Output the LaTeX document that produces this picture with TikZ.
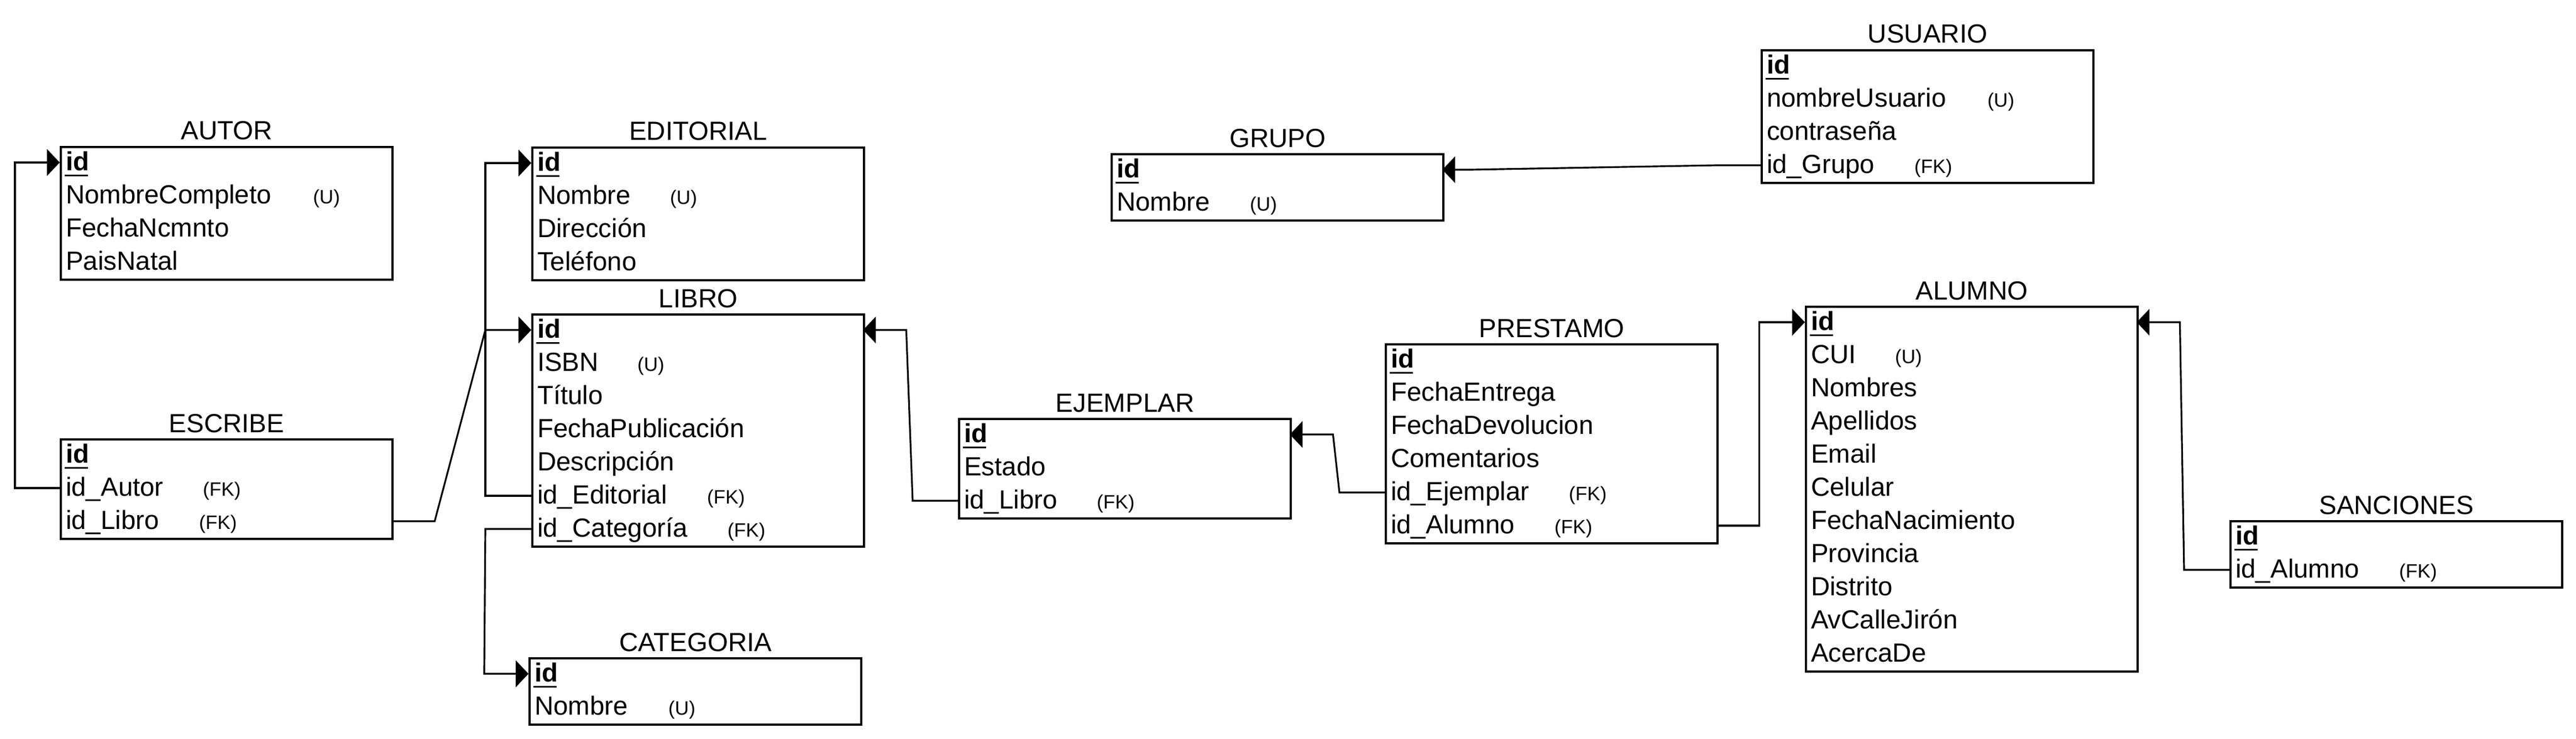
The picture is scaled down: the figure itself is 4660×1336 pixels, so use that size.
\documentclass[tikz,border=0pt]{standalone}
\usepackage{fontspec}
\setmainfont{Liberation Sans}
\usepackage{tikz}
\usetikzlibrary{arrows.meta,positioning}

\newcommand{\entfont}{\fontsize{13.5}{16}\selectfont}
\newcommand{\tagfont}{\fontsize{10}{12}\selectfont}
\newcommand{\pk}{\hspace*{-0.02cm}\rlap{\rule[-0.11cm]{0.42cm}{0.03cm}}\hspace*{0.02cm}\textbf{id}}
\newcommand{\tagged}[3]{\makebox[#2][l]{#1}{\tagfont #3}}

\tikzset{
    entity/.style={draw, line width=1.1pt, anchor=north west, minimum width=6cm, inner sep=0pt},
    attr/.style={anchor=west, outer sep=0pt, inner xsep=0.11cm, inner ysep=0pt, text width=5.78cm, align=left,
        text height=0.38cm, text depth=0.10cm, font=\entfont},
    title/.style={anchor=base, font=\entfont},
    fk/.style={line width=0.9pt, -{Triangle[length=0.23cm,width=0.48cm]}}
}

\begin{document}
\begin{tikzpicture}[x=0.01cm, y=-0.01cm]
    \useasboundingbox (0,0) rectangle (4660,1336);

    % AUTOR
    \node[entity, minimum height=2.4cm] (autor) at (108,264) {};
    \node[title] (autor-title) at ([yshift=0.11cm]autor.north) {AUTOR};
    \foreach \f [count=\i] in {\pk, \tagged{NombreCompleto}{4.47cm}{(U)}, FechaNcmnto, PaisNatal}
        \node[attr] (autor-\i) at (108, 234+60*\i) {\f};

    % EDITORIAL
    \node[entity, minimum height=2.4cm] (editorial) at (961,265) {};
    \node[title] (editorial-title) at ([yshift=0.11cm]editorial.north) {EDITORIAL};
    \foreach \f [count=\i] in {\pk, \tagged{Nombre}{2.40cm}{(U)}, Dirección, Teléfono}
        \node[attr] (editorial-\i) at (961, 235+60*\i) {\f};

    % ESCRIBE
    \node[entity, minimum height=1.8cm] (escribe) at (108,793) {};
    \node[title] (escribe-title) at ([yshift=0.11cm]escribe.north) {ESCRIBE};
    \foreach \f [count=\i] in {\pk, \tagged{id\_Autor}{2.48cm}{(FK)}, \tagged{id\_Libro}{2.41cm}{(FK)}}
        \node[attr] (escribe-\i) at (108, 763+60*\i) {\f};

    % LIBRO
    \node[entity, minimum height=4.2cm] (libro) at (961,567) {};
    \node[title] (libro-title) at ([yshift=0.11cm]libro.north) {LIBRO};
    \foreach \f [count=\i] in {\pk, \tagged{ISBN}{1.81cm}{(U)}, Título, FechaPublicación, Descripción,
        \tagged{id\_Editorial}{3.07cm}{(FK)}, \tagged{id\_Categoría}{3.44cm}{(FK)}}
        \node[attr] (libro-\i) at (961, 537+60*\i) {\f};

    % CATEGORIA
    \node[entity, minimum height=1.2cm] (categoria) at (956,1189) {};
    \node[title] (categoria-title) at ([yshift=0.11cm]categoria.north) {CATEGORIA};
    \foreach \f [count=\i] in {\pk, \tagged{Nombre}{2.42cm}{(U)}}
        \node[attr] (categoria-\i) at (956, 1159+60*\i) {\f};

    % GRUPO
    \node[entity, minimum height=1.2cm] (grupo) at (2009,277) {};
    \node[title] (grupo-title) at ([yshift=0.11cm]grupo.north) {GRUPO};
    \foreach \f [count=\i] in {\pk, \tagged{Nombre}{2.41cm}{(U)}}
        \node[attr] (grupo-\i) at (2009, 247+60*\i) {\f};

    % EJEMPLAR
    \node[entity, minimum height=1.8cm] (ejemplar) at (1733,756) {};
    \node[title] (ejemplar-title) at ([yshift=0.11cm]ejemplar.north) {EJEMPLAR};
    \foreach \f [count=\i] in {\pk, Estado, \tagged{id\_Libro}{2.40cm}{(FK)}}
        \node[attr] (ejemplar-\i) at (1733, 726+60*\i) {\f};

    % PRESTAMO
    \node[entity, minimum height=3.6cm] (prestamo) at (2505,621) {};
    \node[title] (prestamo-title) at ([yshift=0.11cm]prestamo.north) {PRESTAMO};
    \foreach \f [count=\i] in {\pk, FechaEntrega, FechaDevolucion, Comentarios,
        \tagged{id\_Ejemplar}{3.22cm}{(FK)}, \tagged{id\_Alumno}{2.96cm}{(FK)}}
        \node[attr] (prestamo-\i) at (2505, 591+60*\i) {\f};

    % USUARIO
    \node[entity, minimum height=2.4cm] (usuario) at (3185,89) {};
    \node[title] (usuario-title) at ([yshift=0.11cm]usuario.north) {USUARIO};
    \foreach \f [count=\i] in {\pk, \tagged{nombreUsuario}{3.99cm}{(U)}, contraseña, \tagged{id\_Grupo}{2.67cm}{(FK)}}
        \node[attr] (usuario-\i) at (3185, 59+60*\i) {\f};

    % ALUMNO
    \node[entity, minimum height=6.6cm] (alumno) at (3265,553) {};
    \node[title] (alumno-title) at ([yshift=0.11cm]alumno.north) {ALUMNO};
    \foreach \f [count=\i] in {\pk, \tagged{CUI}{1.52cm}{(U)}, Nombres, Apellidos, Email, Celular,
        FechaNacimiento, Provincia, Distrito, AvCalleJirón, AcercaDe}
        \node[attr] (alumno-\i) at (3265, 523+60*\i) {\f};

    % SANCIONES
    \node[entity, minimum height=1.2cm] (sanciones) at (4033,941) {};
    \node[title] (sanciones-title) at ([yshift=0.11cm]sanciones.north) {SANCIONES};
    \foreach \f [count=\i] in {\pk, \tagged{id\_Alumno}{2.96cm}{(FK)}}
        \node[attr] (sanciones-\i) at (4033, 911+60*\i) {\f};

    % relaciones
    \draw[fk] (escribe-2.west) -- ++(-81,0) |- (autor-1.west);
    \draw[fk] (escribe-3.east) -- ++(78,0) -- ([xshift=-0.83cm]libro-1.west) -- (libro-1.west);
    \draw[fk] (libro-6.west) -- ++(-83,0) |- (editorial-1.west);
    \draw[fk] (libro-7.west) -- ++(-83,0) -- ([xshift=-0.80cm]categoria-1.west) -- (categoria-1.west);
    \draw[fk] (ejemplar-3.west) -- ++(-82,0) -- ([xshift=0.78cm]libro-1.east) -- (libro-1.east);
    \draw[fk] (prestamo-5.west) -- ++(-82,0) -- ([xshift=0.78cm]ejemplar-1.east) -- (ejemplar-1.east);
    \draw[fk] (prestamo-6.east) -- ++(77,0) |- (alumno-1.west);
    \draw[fk] (usuario-4.west) -- ++(-80,0) -- ([xshift=0.51cm]grupo-1.east) -- (grupo-1.east);
    \draw[fk] (sanciones-2.west) -- ++(-82,0) -- ([xshift=0.78cm]alumno-1.east) -- (alumno-1.east);
\end{tikzpicture}
\end{document}
